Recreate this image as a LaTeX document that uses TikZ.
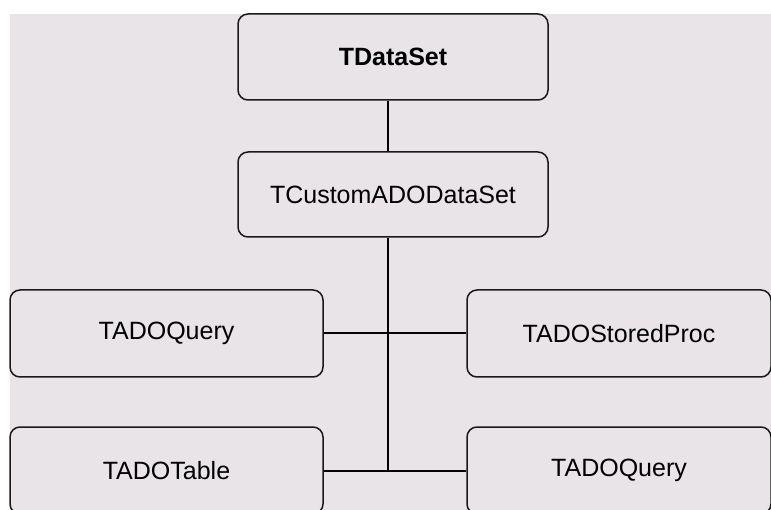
\documentclass[tikz,border=0pt]{standalone}
\usepackage{fontspec}
\setmainfont{Liberation Sans}
\definecolor{canvas}{RGB}{232,228,231}
\definecolor{edge}{RGB}{25,25,25}
\begin{document}
\begin{tikzpicture}[x=1pt,y=-1pt,
    classbox/.style={draw=edge,line width=1.5pt,rounded corners=10pt,
      inner sep=0pt,font=\fontsize{25}{30}\selectfont},
    link/.style={draw=black,line width=2pt}]
        \useasboundingbox (0,0) rectangle (771,510);
        \fill[canvas] (10,14) rectangle (771,510);
        \coordinate (trunk) at (388,0);
        \node[classbox,minimum width=310pt,minimum height=86pt,font=\fontsize{25}{30}\selectfont\bfseries] (dataset) at (393,57) {TDataSet};
        \node[classbox,minimum width=310pt,minimum height=85pt] (custom) at (393,194.5) {TCustomADODataSet};
        \node[classbox,minimum width=313pt,minimum height=87pt] (query) at (166.5,333.5) {TADOQuery};
        \node[classbox,minimum width=304pt,minimum height=87pt] (storedproc) at (619,333.5) {TADOStoredProc};
        \node[classbox,minimum width=313pt,minimum height=87pt] (table) at (166.5,470.5) {TADOTable};
        \node[classbox,minimum width=304pt,minimum height=87pt] (query2) at (619,470.5) {TADOQuery};
        \draw[link] (dataset.south -| trunk) -- (custom.north -| trunk);
        \draw[link] (custom.south -| trunk) -- (trunk |- table.east);
        \draw[link] (query.east) -- (storedproc.west);
        \draw[link] (table.east) -- (query2.west);
    \end{tikzpicture}
\end{document}
